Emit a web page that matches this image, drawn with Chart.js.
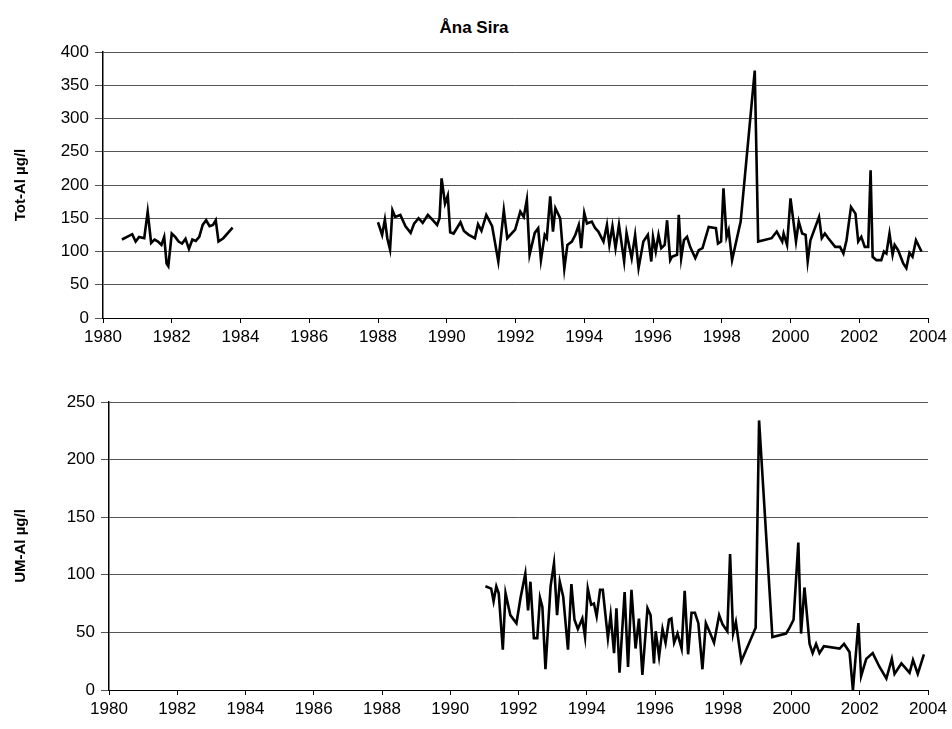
<!DOCTYPE html>
<html><head><meta charset="utf-8">
<script src="https://cdn.jsdelivr.net/npm/chart.js@4"></script>
<style>
body{margin:0;background:#fff;width:952px;height:729px;position:relative;overflow:hidden;font-family:"Liberation Sans",Arial,sans-serif}
#t{position:absolute;top:18px;left:0;width:948px;text-align:center;font-weight:bold;font-size:17px}
canvas{position:absolute;left:0}
</style></head><body>
<div id="t">Åna Sira</div>
<div style="position:absolute;top:0;left:0;width:952px;height:350px"><canvas id="c1"></canvas></div>
<div style="position:absolute;top:360px;left:0;width:952px;height:369px"><canvas id="c2"></canvas></div>
<script>
const totYears=[1980.55,1980.7,1980.85,1980.95,1981.05,1981.2,1981.3,1981.4,1981.5,1981.6,1981.7,1981.78,1981.85,1981.9,1982.0,1982.1,1982.2,1982.3,1982.4,1982.5,1982.6,1982.7,1982.8,1982.9,1983.0,1983.1,1983.2,1983.28,1983.36,1983.5,1983.77,
1984.5,
1988.0,1988.12,1988.2,1988.27,1988.35,1988.42,1988.5,1988.65,1988.8,1988.95,1989.05,1989.18,1989.3,1989.45,1989.58,1989.72,1989.79,1989.85,1989.95,1990.03,1990.1,1990.2,1990.4,1990.5,1990.64,1990.82,1990.91,1991.01,1991.15,1991.32,1991.5,1991.66,1991.76,1991.99,1992.14,1992.24,1992.33,1992.41,1992.56,1992.66,1992.74,1992.85,1992.91,1993.01,1993.09,1993.16,1993.3,1993.42,1993.51,1993.64,1993.74,1993.84,1993.91,1994.0,1994.08,1994.22,1994.32,1994.41,1994.56,1994.66,1994.73,1994.82,1994.91,1995.01,1995.16,1995.23,1995.38,1995.48,1995.58,1995.72,1995.85,
1995.95,1996.0,1996.08,1996.16,1996.24,1996.34,1996.41,1996.5,1996.55,1996.7,1996.75,1996.82,1996.9,1996.99,1997.08,1997.23,1997.33,1997.44,1997.62,1997.83,1997.89,1997.98,1998.05,1998.14,1998.2,1998.3,1998.55,1998.96,1999.06,1999.45,1999.6,1999.76,1999.8,1999.9,2000.0,2000.16,2000.24,2000.34,2000.44,2000.5,2000.58,2000.83,2000.91,2001.0,2001.1,2001.3,2001.44,2001.54,2001.63,2001.76,2001.89,2001.97,2002.06,2002.16,2002.26,2002.33,2002.39,2002.5,2002.64,2002.72,2002.79,2002.88,2002.97,2003.03,2003.13,2003.28,2003.37,2003.46,2003.55,2003.65,2003.81,2003.91];
const totVals=[118,122,126,115,122,120,160,113,118,115,110,122,82,78,127,122,115,112,119,104,118,116,122,140,147,138,140,147,115,120,136,
null,
144,125,148,120,103,162,152,155,138,128,142,150,143,155,148,140,150,210,172,184,129,127,144,131,125,120,141,131,155,138,85,162,120,133,160,152,178,95,128,135,87,125,120,183,130,165,150,74,110,115,125,140,105,158,142,145,135,130,115,140,110,138,105,140,85,128,90,125,75,115,125,
85,122,100,125,105,110,147,87,92,95,155,90,117,122,107,90,102,105,137,135,112,115,195,122,132,87,145,372,115,120,130,115,127,110,180,115,145,127,125,85,117,152,120,127,120,107,107,97,117,167,157,115,122,107,107,222,92,87,87,100,97,127,95,110,102,82,75,98,92,117,100];
const umYears=[1991.03,1991.2,1991.27,1991.35,1991.42,1991.54,1991.62,1991.76,1991.94,1992.06,1992.2,1992.28,1992.35,1992.45,1992.55,1992.63,1992.7,1992.79,1992.94,1993.04,1993.13,1993.21,1993.31,1993.45,1993.55,1993.64,1993.74,1993.87,1993.95,1994.03,1994.13,1994.21,1994.29,1994.39,1994.47,1994.62,1994.7,1994.8,1994.87,1994.96,1995.11,1995.21,1995.31,1995.43,1995.53,1995.63,1995.78,1995.87,1995.97,1996.02,1996.12,1996.22,1996.31,1996.41,1996.48,1996.56,1996.66,1996.78,1996.87,1996.97,1997.07,1997.17,1997.27,1997.39,1997.49,1997.62,1997.73,1997.88,1997.98,1998.12,1998.2,1998.29,1998.37,1998.53,1998.95,1999.05,1999.44,1999.84,1999.94,2000.06,2000.2,2000.28,2000.38,2000.53,2000.62,2000.72,2000.82,2000.95,2001.41,2001.54,2001.7,2001.8,2001.96,2002.04,2002.19,2002.38,2002.58,2002.78,2002.94,2003.02,2003.22,2003.46,2003.56,2003.7,2003.88];
const umVals=[90,88,77,90,84,35,84,65,58,80,101,69,94,45,45,80,72,18,90,110,65,94,81,35,92,61,53,62,46,88,74,75,64,87,87,45,65,32,71,15,85,20,87,36,62,13,71,65,23,51,29,53,41,61,62,41,49,36,86,31,67,67,58,18,58,49,41,65,57,51,118,49,59,25,54,234,46,49,54,61,128,49,89,40,32,40,32,38,36,40,33,0,58,12,27,32,20,10,27,14,23,15,26,14,31];
const tickFont={family:'"Liberation Sans",Arial',size:17};
function mk(id,xs,vs,ymax,ystep,ytitle,left,ptop,xh){
  new Chart(document.getElementById(id),{type:'line',
  data:{datasets:[{data:xs.map((x,i)=>({x:x,y:vs[i]})),borderColor:'#000',borderWidth:2.6,pointRadius:0,tension:0,spanGaps:false}]},
  options:{animation:false,responsive:true,maintainAspectRatio:false,
    layout:{padding:{top:ptop,right:24,left:10,bottom:0}},
    plugins:{legend:{display:false},tooltip:{enabled:false}},
    scales:{
      x:{type:'linear',min:1980,max:2004,ticks:{stepSize:2,color:'#000',font:tickFont,padding:4,callback:v=>String(v)},
         grid:{drawOnChartArea:false,color:'#000',tickLength:5},border:{color:'#000'},afterFit:s=>{s.height=xh}},
      y:{min:0,max:ymax,ticks:{stepSize:ystep,color:'#000',font:tickFont,padding:6},
         grid:{color:'#555',tickLength:8},border:{color:'#000',width:1.5},
         title:{display:true,text:ytitle,color:'#000',font:{family:'"Liberation Sans",Arial',size:15,weight:'bold'},padding:2},
         afterFit:s=>{s.width=left-10}}
    }}});
}
mk('c1',totYears,totVals,400,50,'Tot-Al µg/l',103,52,32);
mk('c2',umYears,umVals,250,50,'UM-Al µg/l',109,42,39);
</script></body></html>
